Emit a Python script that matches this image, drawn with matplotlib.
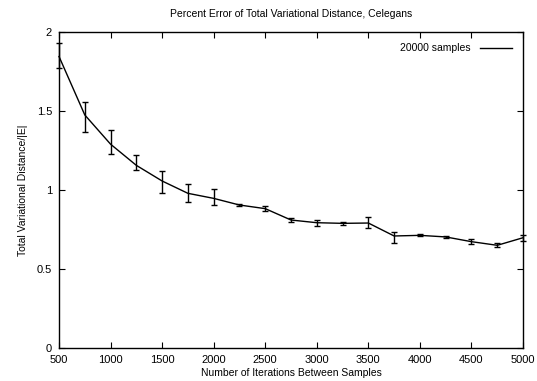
import numpy as np
import matplotlib
matplotlib.use('Agg')
import matplotlib.pyplot as plt
from matplotlib.lines import Line2D

plt.rcParams['font.family'] = ['Liberation Sans', 'DejaVu Sans']

# iterations between samples, mean TVD/|E| and error bar ends
iterations = [500, 750, 1000, 1250, 1500, 1750, 2000, 2250, 2500, 2750,
              3000, 3250, 3500, 3750, 4000, 4250, 4500, 4750, 5000]
tvd = [1.845, 1.475, 1.29, 1.156, 1.057, 0.979, 0.947, 0.905, 0.882, 0.81,
       0.793, 0.789, 0.791, 0.709, 0.713, 0.703, 0.673, 0.65, 0.698]
err_low = [0.07, 0.105, 0.065, 0.03, 0.078, 0.053, 0.042, 0.005, 0.013, 0.013,
           0.021, 0.013, 0.034, 0.047, 0.006, 0.004, 0.013, 0.011, 0.018]
err_high = [0.085, 0.082, 0.09, 0.068, 0.065, 0.061, 0.059, 0.005, 0.015, 0.015,
            0.017, 0.011, 0.036, 0.025, 0.006, 0.004, 0.017, 0.012, 0.02]

fig = plt.figure(figsize=(5.37, 3.81), dpi=100)
ax = fig.add_axes([0.1099, 0.0866, 0.8641, 0.8294])

eb = ax.errorbar(iterations, tvd, yerr=[err_low, err_high], color='black',
                 linewidth=1.0, elinewidth=1.0, capsize=2.5, capthick=1.0)
for art in eb.get_children():
    art.set_clip_on(False)

ax.set_xlim(500, 5000)
ax.set_ylim(0, 2)
ax.set_xticks(np.arange(500, 5001, 500))
ax.set_yticks([0, 0.5, 1, 1.5, 2])
ax.set_yticklabels(['0', '0.5', '1', '1.5', '2'])
ax.tick_params(direction='in', top=True, right=True, length=4, width=0.8,
               labelsize=8, pad=5)
for s in ax.spines.values():
    s.set_linewidth(1.0)

ax.set_title('Percent Error of Total Variational Distance, Celegans',
             fontsize=7.5, pad=11)
ax.set_xlabel('Number of Iterations Between Samples', fontsize=7.5, labelpad=2)
ax.set_ylabel('Total Variational Distance/|E|', fontsize=7.5, labelpad=6)

handle = Line2D([], [], color='black', linewidth=1.0)
ax.legend([handle], ['20000 samples'], loc='upper right', frameon=False,
          fontsize=7.5, markerfirst=False, handlelength=3.0,
          borderaxespad=0.9, handletextpad=0.9, borderpad=0.2)

fig.savefig('out.png', dpi=100)
